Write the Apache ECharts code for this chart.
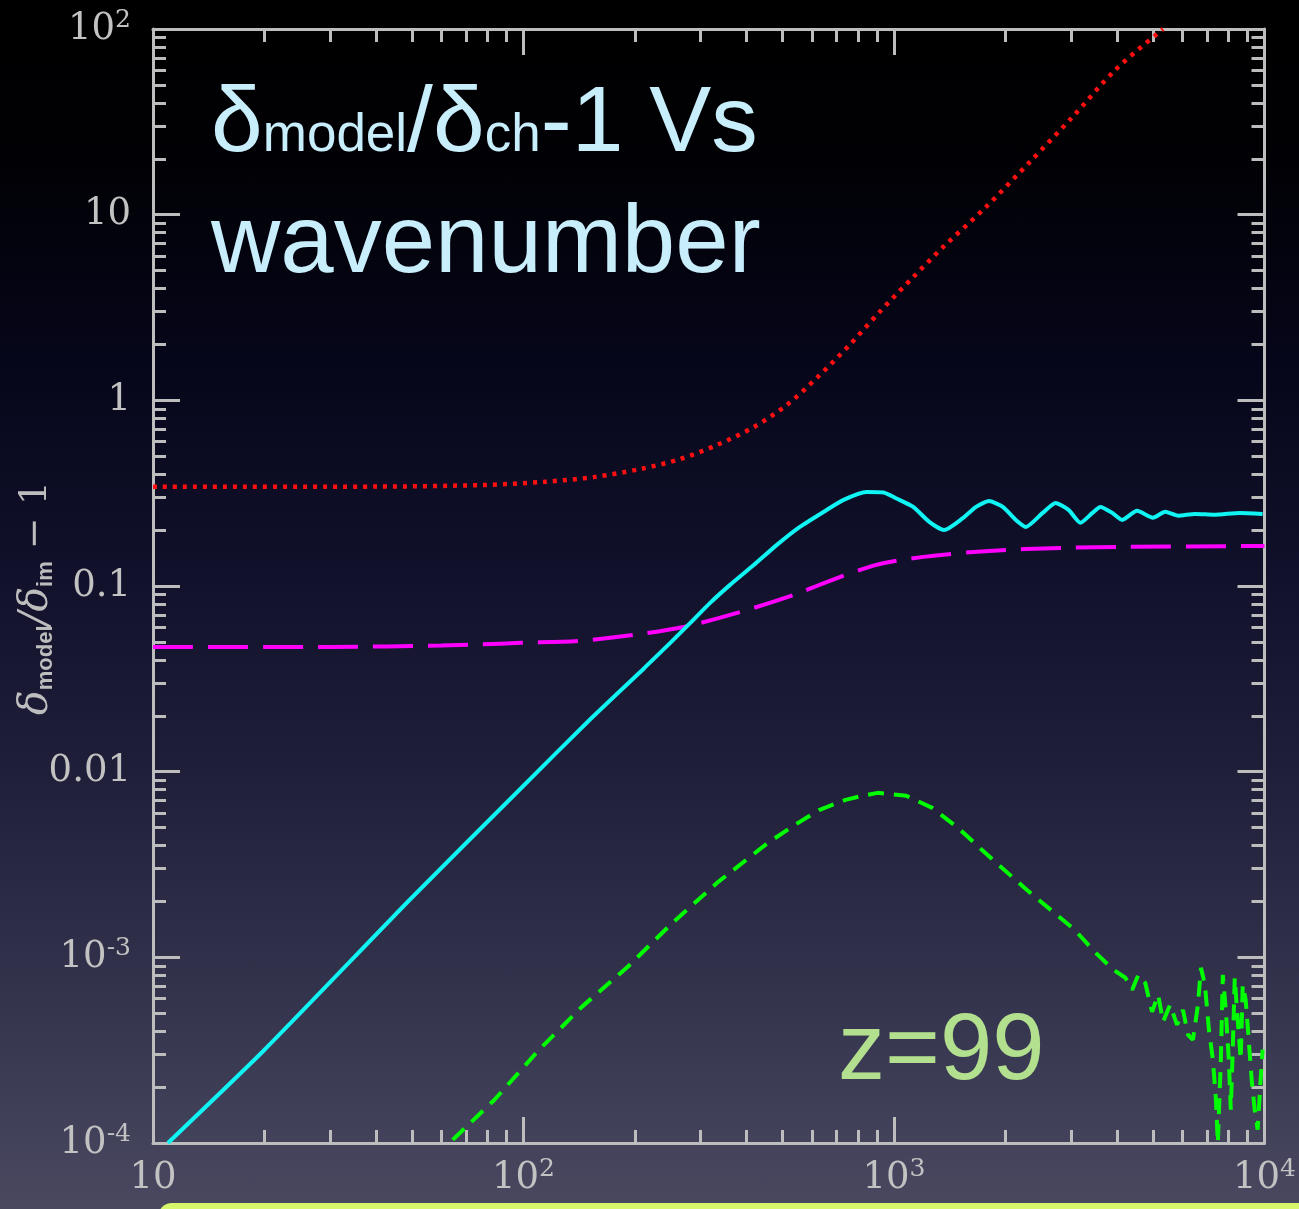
<!DOCTYPE html>
<html><head><meta charset="utf-8">
<script src="https://cdn.jsdelivr.net/npm/echarts@6/dist/echarts.min.js"></script>
<style>
html,body{margin:0;padding:0;width:1299px;height:1209px;overflow:hidden;
background:linear-gradient(to bottom,#000000 0px,#010105 160px,#06061a 360px,#10102a 560px,#1e1e38 760px,#30304a 960px,#43425b 1140px,#49485f 1209px);}
#c{width:1299px;height:1209px;}
</style>
</head><body><div id="c"></div>
<script>
// ---- tick labels / axis values ----
const xMajor = [10, 100, 1000, 10000];
const yMajor = [1e-4, 1e-3, 1e-2, 1e-1, 1, 10, 100];

// ---- series: red dotted ----
const redK = [10, 40, 78, 114, 156, 207, 265, 333, 419, 514, 619, 759, 914, 1128, 1358, 1771, 2324, 3034, 3955, 5321];
const redV = [0.342, 0.343, 0.350, 0.364, 0.387, 0.427, 0.483, 0.575, 0.719, 0.945, 1.321, 1.988, 2.99, 4.62, 6.70, 11.0, 19.2, 33.6, 60.2, 100];

// ---- series: magenta long dashed ----
const magK = [10, 30, 60, 75.6, 98.6, 140, 200, 272, 377, 537, 658, 897, 1200, 1805, 2851, 4289, 10000];
const magV = [0.0470, 0.0470, 0.0478, 0.0484, 0.0494, 0.0506, 0.0546, 0.0603, 0.0716, 0.0896, 0.105, 0.130, 0.1435, 0.1545, 0.1604, 0.1625, 0.1644];

// ---- series: cyan solid ----
const cyanK = [10.97, 20, 50, 100, 150, 212, 249, 282, 319, 361, 419, 483, 557, 646, 731, 843, 937, 1015, 1127, 1245, 1365, 1536, 1665, 1804, 1967, 2132, 2268, 2519, 2730, 2959, 3186, 3432, 3606, 3885, 4130, 4530, 5000, 5395, 5845, 6491, 7345, 8570, 9883];
const cyanV = [1.0e-4, 3.18e-4, 2.1e-3, 8.4e-3, 0.0188, 0.0362, 0.0494, 0.0633, 0.0811, 0.1014, 0.130, 0.1665, 0.208, 0.251, 0.291, 0.321, 0.319, 0.296, 0.2667, 0.2214, 0.200, 0.2326, 0.2667, 0.287, 0.2667, 0.227, 0.208, 0.2475, 0.280, 0.257, 0.219, 0.2475, 0.2667, 0.2475, 0.227, 0.254, 0.233, 0.251, 0.239, 0.2445, 0.242, 0.2475, 0.2445];

// ---- series: green dashed ----
const greenK = [64.4, 83.5, 110.2, 143.7, 191.1, 252.4, 335.5, 457, 540, 630, 740, 820, 903, 1080, 1268, 1490, 1749, 2281, 3069, 3498, 3909, 4211,
  4395, 4563, 4764, 4972, 5163, 5325, 5560, 5806, 6026, 6215, 6411, 6612, 6737, 6905, 7079, 7256, 7393, 7482, 7623, 7718, 7862, 8010, 8110, 8209, 8312, 8466, 8626, 8734, 8896, 9064, 9235, 9406, 9583, 9761, 9883];
const greenV = [1.04e-4, 1.71e-4, 3.18e-4, 5.41e-4, 8.89e-4, 1.535e-3, 2.55e-3, 4.14e-3, 5.17e-3, 6.23e-3, 7.05e-3, 7.41e-3, 7.69e-3, 7.41e-3, 6.38e-3, 4.98e-3, 3.70e-3, 2.31e-3, 1.41e-3, 1.06e-3, 8.57e-4, 7.76e-4,
  6.68e-4, 8.05e-4, 7.29e-4, 5.09e-4, 6.28e-4, 4.50e-4, 5.55e-4, 4.33e-4, 5.21e-4, 3.83e-4, 3.60e-4, 5.55e-4, 8.78e-4, 7.11e-4, 4.07e-4, 2.81e-4, 1.71e-4, 1.00e-4, 2.81e-4, 8.05e-4, 5.21e-4, 2.81e-4, 1.51e-4, 3.18e-4, 7.76e-4, 4.60e-4, 2.81e-4, 7.11e-4, 5.90e-4, 3.60e-4, 2.19e-4, 1.51e-4, 1.18e-4, 2.19e-4, 3.18e-4];

// ---- title pieces (text, size) ----
const titleLine1 = [['δ', 93], ['model', 53], ['/δ', 93], ['ch', 53], ['-1 Vs', 93]];
const titleLine2 = 'wavenumber';
const zLabel = 'z=99';

function zip(a, b) { return a.map((v, i) => [v, b[i]]); }
function minors(maj) { const out = []; for (let i = 0; i < maj.length - 1; i++) for (let m = 2; m <= 9; m++) out.push(maj[i] * m); return out; }

const axisCol = '#bdbdbd';
const labRich = {
  n: { fontFamily: 'DejaVu Serif', fontSize: 37, color: '#c2c2c2', lineHeight: 42 },
  p: { fontFamily: 'DejaVu Serif', fontSize: 25, color: '#c2c2c2', lineHeight: 26, verticalAlign: 'top' }
};
function xFmt(v) {
  const e = Math.round(Math.log10(v));
  return e === 1 ? '{n|10}' : '{n|10}{p|' + e + '}';
}
function yFmt(v) {
  const e = Math.round(Math.log10(v));
  if (e === 1) return '{n|10}';
  if (e === 0) return '{n|1}';
  if (e === -1) return '{n|0.1}';
  if (e === -2) return '{n|0.01}';
  return '{n|10}{p|' + e + '}';
}
function xAx(pos, major) {
  return {
    type: 'log', logBase: 10, min: 10, max: 10000, position: pos,
    axisLine: { show: major, onZero: false, lineStyle: { color: axisCol, width: 3 } },
    axisTick: { show: true, inside: true, length: major ? 26 : 13, lineStyle: { color: axisCol, width: 3 },
      customValues: major ? xMajor : minors(xMajor) },
    axisLabel: { show: major && pos === 'bottom', customValues: xMajor, formatter: xFmt, margin: 14, rich: labRich },
    splitLine: { show: false }, minorTick: { show: false }
  };
}
function yAx(pos, major) {
  return {
    type: 'log', logBase: 10, min: 1e-4, max: 100, position: pos,
    axisLine: { show: major, onZero: false, lineStyle: { color: axisCol, width: 3 } },
    axisTick: { show: true, inside: true, length: major ? 27 : 13, lineStyle: { color: axisCol, width: 3 },
      customValues: major ? yMajor : minors(yMajor) },
    axisLabel: { show: major && pos === 'left', customValues: yMajor, formatter: yFmt, margin: 22, align: 'right', rich: labRich },
    splitLine: { show: false }, minorTick: { show: false }
  };
}

// title line 1: pieces of different sizes sharing one baseline
const mctx = document.createElement('canvas').getContext('2d');
const titleFont = 'Liberation Sans';
const baseline1 = 151, k = 0.275;
let tx = 211;
const titleGraphics = titleLine1.map(([t, s]) => {
  mctx.font = s + 'px "' + titleFont + '"';
  const el = { type: 'text', x: tx, y: baseline1 - k * s, z: 10,
    style: { text: t, fontFamily: titleFont, fontSize: s, fill: '#c8eefc', align: 'left', verticalAlign: 'middle' } };
  tx += mctx.measureText(t).width;
  return el;
});

const chart = echarts.init(document.getElementById('c'), null, { renderer: 'canvas' });
chart.setOption({
  backgroundColor: 'transparent',
  animation: false,
  grid: { left: 153, right: 30, top: 29, bottom: 66, containLabel: false },
  xAxis: [xAx('bottom', true), xAx('bottom', false), xAx('top', true), xAx('top', false)],
  yAxis: [yAx('left', true), yAx('left', false), yAx('right', true), yAx('right', false)],
  series: [
    { name: 'red', type: 'line', xAxisIndex: 0, yAxisIndex: 0, data: zip(redK, redV), symbol: 'none', smooth: 0.3,
      lineStyle: { color: '#ff1010', width: 4.5, type: [4, 6] }, z: 3 },
    { name: 'magenta', type: 'line', xAxisIndex: 0, yAxisIndex: 0, data: zip(magK, magV), symbol: 'none', smooth: 0.3,
      lineStyle: { color: '#ff00ff', width: 4, type: [40, 15] }, z: 3 },
    { name: 'cyan', type: 'line', xAxisIndex: 0, yAxisIndex: 0, data: zip(cyanK, cyanV), symbol: 'none', smooth: 0.2,
      lineStyle: { color: '#10f4f4', width: 4 }, z: 4 },
    { name: 'green', type: 'line', xAxisIndex: 0, yAxisIndex: 0, data: zip(greenK, greenV), symbol: 'none',
      lineStyle: { color: '#00ff00', width: 4, type: [16, 10] }, z: 3 }
  ],
  graphic: titleGraphics.concat([
    { type: 'text', x: 211, y: 246, z: 10,
      style: { text: titleLine2, fontFamily: titleFont, fontSize: 96, fill: '#c8eefc', align: 'left', verticalAlign: 'middle' } },
    { type: 'text', x: 838, y: 1053, z: 10,
      style: { text: zLabel, fontFamily: titleFont, fontSize: 94, fill: '#b3e08e', align: 'left', verticalAlign: 'middle' } },
    { type: 'text', x: 36, y: 598, rotation: Math.PI / 2, z: 10,
      style: { text: '{d|δ}{m|model}{d|/δ}{m|im}{o| − 1}', align: 'center', verticalAlign: 'middle',
        rich: {
          d: { fontFamily: 'DejaVu Serif', fontStyle: 'italic', fontSize: 41, lineHeight: 42, fill: '#bdbdbd' },
          m: { fontFamily: 'Liberation Sans', fontWeight: 'bold', fontSize: 22, lineHeight: 20, fill: '#bdbdbd', verticalAlign: 'bottom' },
          o: { fontFamily: 'DejaVu Serif', fontSize: 38, lineHeight: 42, fill: '#bdbdbd' }
        } } },
    { type: 'rect', z: 10, shape: { x: 158, y: 1203, width: 1160, height: 30, r: 14 }, style: { fill: '#d6f76c' } }
  ])
});
</script>
</body></html>
